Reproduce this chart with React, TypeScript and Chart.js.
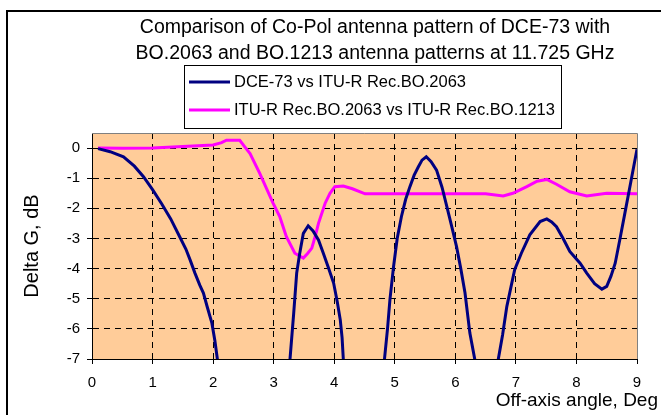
import React, { useEffect, useRef } from "react";
import { Chart, registerables } from "chart.js";

Chart.register(...registerables);

const FONT = '"Liberation Sans", Arial, Helvetica, sans-serif';

const titleLines = [
  "Comparison of Co-Pol antenna pattern of DCE-73 with",
  "BO.2063 and BO.1213 antenna patterns at 11.725 GHz",
];
const seriesNames = ["DCE-73 vs ITU-R Rec.BO.2063", "ITU-R Rec.BO.2063 vs ITU-R Rec.BO.1213"];
const seriesColors = ["#000080", "#FF00FF"];
const xAxisTitle = "Off-axis angle, Deg";
const yAxisTitle = "Delta G, dB";
const xTickValues = [0, 1, 2, 3, 4, 5, 6, 7, 8, 9];
const yTickValues = [-7, -6, -5, -4, -3, -2, -1, 0];

// DCE-73 vs ITU-R Rec.BO.2063 (null = gap where curve is far below the axis)
const dceX = [
  0.1, 0.3, 0.52, 0.7, 0.85, 1.0, 1.15, 1.3, 1.45, 1.55, 1.62, 1.7, 1.78, 1.84, 1.9, 1.98, 2.03, 2.07, 2.11,
  2.6,
  3.2, 3.27, 3.33, 3.38, 3.43, 3.49, 3.57, 3.65, 3.74, 3.82, 3.9, 3.99, 4.05, 4.1, 4.13, 4.15, 4.17,
  4.5,
  4.79, 4.83, 4.88, 4.92, 4.98, 5.04, 5.11, 5.18, 5.25, 5.32, 5.39, 5.45, 5.52, 5.6, 5.69, 5.78, 5.86, 5.94,
  6.02, 6.09, 6.16, 6.24, 6.32, 6.36,
  6.5,
  6.66, 6.71, 6.78, 6.85, 6.92, 6.98, 7.09, 7.23, 7.4, 7.51, 7.59, 7.67, 7.78, 7.89, 8.06, 8.17, 8.3, 8.42,
  8.5, 8.57, 8.64, 8.72, 8.8, 8.9, 9.0,
];
const dceY = [
  -0.02, -0.12, -0.29, -0.6, -0.95, -1.38, -1.85, -2.35, -2.95, -3.35, -3.71, -4.15, -4.55, -4.81, -5.25, -5.81, -6.4, -7.0, -8.0,
  null,
  -8.5, -7.0, -5.5, -4.15, -3.5, -2.83, -2.58, -2.75, -3.05, -3.49, -3.95, -4.48, -5.1, -5.7, -6.3, -7.0, -8.5,
  null,
  -8.5, -7.0, -6.0, -5.03, -3.93, -3.0, -2.27, -1.7, -1.28, -0.9, -0.62, -0.4, -0.29, -0.45, -0.73, -1.3, -1.94, -2.6,
  -3.27, -4.0, -4.81, -6.14, -7.0, -8.0,
  null,
  -8.5, -7.0, -6.2, -5.26, -4.6, -4.04, -3.49, -2.88, -2.44, -2.35, -2.45, -2.61, -3.0, -3.43, -3.82, -4.15, -4.5, -4.68,
  -4.59, -4.25, -3.82, -3.0, -2.16, -1.1, -0.04,
];

// ITU-R Rec.BO.2063 vs ITU-R Rec.BO.1213
const ituX = [
  0.1, 0.5, 1.0, 1.5, 2.0, 2.14, 2.22, 2.44, 2.52, 2.61, 2.77, 2.99, 3.1, 3.21, 3.35, 3.49, 3.56, 3.63, 3.69,
  3.74, 3.85, 3.93, 4.01, 4.15, 4.3, 4.51, 5.0, 5.5, 6.0, 6.5, 6.79, 6.95, 7.18, 7.35, 7.51, 7.67, 7.89, 8.17,
  8.5, 9.0,
];
const ituY = [
  0.0, -0.01, 0.0, 0.05, 0.1, 0.18, 0.26, 0.26, 0.05, -0.18, -0.84, -1.83, -2.27, -2.94, -3.49, -3.65, -3.5, -3.32, -2.9,
  -2.5, -1.83, -1.5, -1.28, -1.26, -1.35, -1.52, -1.52, -1.52, -1.52, -1.52, -1.59, -1.5, -1.28, -1.1, -1.04, -1.2, -1.45, -1.59,
  -1.5, -1.52,
];

const toPoints = (xs: number[], ys: (number | null)[]) => xs.map((x, i) => ({ x, y: ys[i] }));

const decorPlugin = {
  id: "decor",
  beforeDraw(chart: any) {
    const { ctx, chartArea: a } = chart;
    ctx.save();
    ctx.fillStyle = "#FFFFFF";
    ctx.fillRect(0, 0, chart.width, chart.height);
    ctx.fillStyle = "#FFCC99";
    ctx.fillRect(a.left, a.top, a.right - a.left, a.bottom - a.top);
    ctx.restore();
  },
  beforeDatasetsDraw(chart: any) {
    const { ctx, chartArea: a } = chart;
    ctx.save();
    ctx.strokeStyle = "#808080";
    ctx.lineWidth = 1;
    const r = Math.round(a.right - 0.5) + 0.5;
    const t = Math.round(a.top - 0.5) + 0.5;
    ctx.beginPath();
    ctx.moveTo(a.left, t);
    ctx.lineTo(r, t);
    ctx.lineTo(r, a.bottom);
    ctx.stroke();
    ctx.restore();
  },
  afterDraw(chart: any) {
    const { ctx } = chart;
    ctx.save();
    // outer frame
    ctx.strokeStyle = "#000";
    ctx.lineWidth = 2;
    ctx.beginPath();
    ctx.moveTo(7, chart.height);
    ctx.lineTo(7, 11);
    ctx.lineTo(chart.width, 11);
    ctx.stroke();

    // title
    ctx.fillStyle = "#000";
    ctx.font = `19.5px ${FONT}`;
    ctx.textAlign = "center";
    ctx.textBaseline = "middle";
    ctx.fillText(titleLines[0], 375, 28);
    ctx.fillText(titleLines[1], 375, 54);

    // legend
    ctx.fillStyle = "#FFF";
    ctx.fillRect(184, 65, 377, 63);
    ctx.strokeStyle = "#000";
    ctx.lineWidth = 1;
    ctx.strokeRect(184.5, 65.5, 377, 63);
    const rows = [82, 110];
    ctx.font = `16.5px ${FONT}`;
    ctx.textAlign = "left";
    rows.forEach((y, i) => {
      ctx.strokeStyle = seriesColors[i];
      ctx.lineWidth = 3;
      ctx.beginPath();
      ctx.moveTo(189, y);
      ctx.lineTo(230, y);
      ctx.stroke();
      ctx.fillStyle = "#000";
      ctx.fillText(seriesNames[i], 234, y);
    });

    // x axis title
    ctx.font = `19px ${FONT}`;
    ctx.textAlign = "right";
    ctx.fillText(xAxisTitle, 658, 401);
    ctx.restore();
  },
};

export default function App() {
  const ref = useRef<HTMLCanvasElement | null>(null);
  useEffect(() => {
    if (!ref.current) return;
    const chart = new Chart(ref.current, {
      type: "line",
      data: {
        datasets: [
          {
            label: seriesNames[0],
            data: toPoints(dceX, dceY),
            borderColor: seriesColors[0],
            borderWidth: 3,
            pointRadius: 0,
            tension: 0,
            spanGaps: false,
          },
          {
            label: seriesNames[1],
            data: toPoints(ituX, ituY),
            borderColor: seriesColors[1],
            borderWidth: 3,
            pointRadius: 0,
            tension: 0,
          },
        ],
      },
      options: {
        responsive: false,
        animation: false,
        events: [],
        layout: { padding: { top: 133, right: 24, left: 0, bottom: 0 } },
        plugins: { legend: { display: false }, title: { display: false }, tooltip: { enabled: false } },
        scales: {
          x: {
            type: "linear",
            min: 0,
            max: 9,
            afterBuildTicks: (s: any) => {
              s.ticks = xTickValues.map((v) => ({ value: v }));
            },
            afterFit: (s: any) => {
              s.height = 56;
            },
            ticks: { color: "#000", font: { family: FONT, size: 15 }, padding: 10, maxRotation: 0, autoSkip: false },
            grid: {
              color: (c: any) => (c.tick && c.tick.value === 9 ? "rgba(0,0,0,0)" : "#000"),
              lineWidth: 1,
              drawTicks: true,
              tickLength: 5,
              tickColor: "#000",
              tickWidth: 1,
              tickBorderDash: [],
            },
            border: { display: true, color: "#000", width: 1, dash: [6, 5] },
          },
          y: {
            type: "linear",
            min: -7,
            max: 0.5,
            afterBuildTicks: (s: any) => {
              s.ticks = yTickValues.map((v) => ({ value: v }));
            },
            afterFit: (s: any) => {
              s.width = 92;
            },
            ticks: { color: "#000", font: { family: FONT, size: 15 }, padding: 7, autoSkip: false },
            grid: {
              color: "#000",
              lineWidth: 1,
              drawTicks: true,
              tickLength: 5,
              tickColor: "#000",
              tickWidth: 1,
              tickBorderDash: [],
            },
            border: { display: true, color: "#000", width: 1, dash: [6, 5] },
            title: {
              display: true,
              text: yAxisTitle,
              color: "#000",
              font: { family: FONT, size: 20 },
              padding: { top: 20, bottom: 0 },
            },
          },
        },
      },
      plugins: [decorPlugin],
    });
    return () => chart.destroy();
  }, []);
  return (
    <div style={{ position: "fixed", left: 0, top: 0, width: 661, height: 415, background: "#fff" }}>
      <canvas ref={ref} width={661} height={415} style={{ display: "block" }} />
    </div>
  );
}
